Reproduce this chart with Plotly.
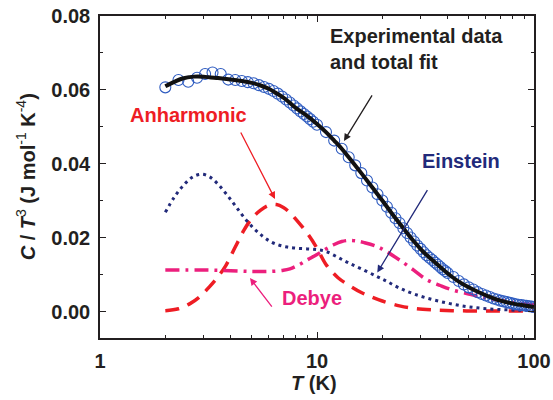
import plotly.graph_objects as go

# ---- data ----
T_exp = [2.0, 2.3, 2.55, 2.8, 3.05, 3.3, 3.6, 3.9, 4.2, 4.5, 4.8, 5.1, 5.4, 5.7, 6.0, 6.3, 6.6, 6.9,
         7.2, 7.5, 7.8, 8.1, 8.4, 8.7, 9.0, 9.3, 9.6, 10, 11, 12, 13, 14, 15, 16, 17, 18, 19, 20,
         21, 22, 23, 24, 25, 26, 27, 28, 29, 30, 31, 32, 33, 34, 35, 36, 37, 38, 39, 40, 42.5, 45,
         47.5, 50, 52.5, 55, 57.5, 60, 62.5, 65, 67.5, 70, 72.5, 75, 77.5, 80, 82.5, 85, 87.5, 90,
         92.5, 95, 97.5, 100]
C_exp = [0.0607, 0.0627, 0.0622, 0.0633, 0.0643, 0.0647, 0.0643, 0.0628, 0.0627, 0.0624, 0.0621,
         0.0618, 0.0613, 0.0608, 0.0603, 0.0597, 0.0590, 0.0582, 0.0574, 0.0566, 0.0558, 0.0550,
         0.0542, 0.0535, 0.0528, 0.0521, 0.0514, 0.0506, 0.0486, 0.0463, 0.0441, 0.0418, 0.0396,
         0.0375, 0.0355, 0.0336, 0.0318, 0.0301, 0.0284, 0.0268, 0.0253, 0.0240, 0.0226, 0.0213,
         0.0201, 0.0190, 0.0179, 0.0170, 0.0161, 0.0153, 0.0146, 0.0140, 0.0133, 0.0127, 0.0121,
         0.0115, 0.0110, 0.0105, 0.0094, 0.0083, 0.0074, 0.0066, 0.0060, 0.0053, 0.0048, 0.0044,
         0.0040, 0.0036, 0.0033, 0.0030, 0.0028, 0.0026, 0.0024, 0.0022, 0.0020, 0.0019, 0.0018,
         0.0017, 0.0016, 0.0015, 0.0014, 0.0013]

T_fit = [2, 2.2, 2.4, 2.7, 3, 3.5, 4, 4.5, 5, 5.5, 6, 6.5, 7, 7.5, 8, 9, 10, 11, 12, 13, 14, 16,
         18, 20, 22, 25, 28, 31, 34, 38, 42, 46, 50, 56, 62, 70, 80, 90, 100]
C_fit = [0.0610, 0.0622, 0.0631, 0.0636, 0.0636, 0.0632, 0.0628, 0.0624, 0.0619, 0.0612, 0.0603,
         0.0591, 0.0579, 0.0565, 0.0551, 0.0530, 0.0508, 0.0486, 0.0463, 0.0441, 0.0418, 0.0375,
         0.0336, 0.0301, 0.0268, 0.0226, 0.0190, 0.0161, 0.0140, 0.0115, 0.0094, 0.0078, 0.0066,
         0.0052, 0.0041, 0.0030, 0.0022, 0.0017, 0.0013]

T_ein = [2.0, 2.2, 2.45, 2.7, 2.95, 3.2, 3.5, 3.85, 4.2, 4.6, 5.1, 5.6, 6.1, 6.7, 7.3, 8.0, 9.0,
         10.0, 11.0, 12.5, 14, 16, 18.8, 21, 24, 28, 34, 41, 49, 58, 70, 85, 100]
C_ein = [0.0269, 0.0310, 0.0345, 0.0366, 0.0372, 0.0365, 0.0345, 0.0316, 0.0287, 0.0256, 0.0226,
         0.0205, 0.0190, 0.0180, 0.0175, 0.0172, 0.0170, 0.0168, 0.0163, 0.0147, 0.0132, 0.0116,
         0.0096, 0.0082, 0.0064, 0.0048, 0.0033, 0.0022, 0.0014, 0.0009, 0.0006, 0.0004, 0.0003]

T_anh = [2.0, 2.3, 2.6, 2.9, 3.2, 3.5, 3.8, 4.2, 4.6, 5.0, 5.5, 6.0, 6.5, 7.0, 7.5, 8.0, 9.0, 10.0,
         11.0, 12.5, 14, 16, 18, 20, 24, 28, 34, 42, 55, 70, 100]
C_anh = [0.0003, 0.0008, 0.0022, 0.0042, 0.0068, 0.0095, 0.0125, 0.0175, 0.0220, 0.0252, 0.0275,
         0.0288, 0.0290, 0.0282, 0.0268, 0.0250, 0.0213, 0.0172, 0.0128, 0.0092, 0.0072, 0.0052,
         0.0039, 0.0029, 0.0016, 0.0009, 0.0005, 0.0003, 0.0002, 0.0002, 0.0002]

T_deb = [2.0, 3, 4, 5, 6, 7, 7.5, 8, 8.5, 9, 10, 11, 12, 13, 14, 15, 16.5, 18.8, 21, 24, 28, 32,
         37, 42, 50, 56, 65, 80, 100]
C_deb = [0.0113, 0.0113, 0.0111, 0.0109, 0.0109, 0.0112, 0.0116, 0.0123, 0.0131, 0.0140, 0.0155,
         0.0170, 0.0182, 0.0190, 0.0193, 0.0192, 0.0187, 0.0177, 0.0162, 0.0140, 0.0112, 0.0087,
         0.0071, 0.0059, 0.0048, 0.0041, 0.0034, 0.0025, 0.0019]

x_ticks = [1, 10, 100]
x_ticktext = ["1", "10", "100"]
x_minor = [2, 3, 4, 5, 6, 7, 8, 9, 20, 30, 40, 50, 60, 70, 80, 90]

BLUE = "#2f5cc0"
NAVY = "#222a7a"
RED = "#ee1d24"
PINK = "#ec1f7d"
DARK = "#231f20"
FONT = "Arial, Liberation Sans, sans-serif"

fig = go.Figure()
fig.add_trace(go.Scatter(x=T_anh, y=C_anh, mode="lines", line=dict(color=RED, width=3.5, dash="14px,9px"),
                         line_shape="spline", showlegend=False))
fig.add_trace(go.Scatter(x=T_deb, y=C_deb, mode="lines", line=dict(color=PINK, width=3.5, dash="14px,6px,3px,6px"),
                         line_shape="spline", showlegend=False))
fig.add_trace(go.Scatter(x=T_ein, y=C_ein, mode="lines", line=dict(color=NAVY, width=3, dash="3px,4px"),
                         line_shape="spline", showlegend=False))
fig.add_trace(go.Scatter(x=T_exp, y=C_exp, mode="markers",
                         marker=dict(symbol="circle-open", size=11, color=BLUE, line=dict(width=1.1, color=BLUE)),
                         showlegend=False))
fig.add_trace(go.Scatter(x=T_fit, y=C_fit, mode="lines", line=dict(color="#111111", width=4),
                         line_shape="spline", showlegend=False))

lab = dict(family=FONT, size=20, weight="bold")
# text labels
fig.add_annotation(x=1.0507, y=0.0711, xref="x", yref="y", text="Experimental data<br>and total fit",
                   showarrow=False, xanchor="left", yanchor="middle", align="left",
                   font=dict(lab, color=DARK))
fig.add_annotation(x=0.410, y=0.0532, xref="x", yref="y", text="Anharmonic", showarrow=False,
                   font=dict(lab, color=RED))
fig.add_annotation(x=1.6636, y=0.0408, xref="x", yref="y", text="Einstein", showarrow=False,
                   font=dict(lab, color=NAVY))
fig.add_annotation(x=0.977, y=0.0038, xref="x", yref="y", text="Debye", showarrow=False,
                   font=dict(lab, color=PINK))

# axis titles
fig.add_annotation(x=0.493, y=-0.14, xref="paper", yref="paper", text="<i>T</i> (K)", showarrow=False,
                   xanchor="center", yanchor="middle", font=dict(lab, color=DARK))
fig.add_annotation(x=-0.172, y=0.50, xref="paper", yref="paper", textangle=-90,
                   text="<i>C</i> / <i>T</i><sup><span style='font-weight:normal'>3</span></sup> (J mol"
                        "<sup><span style='font-weight:normal'>-1</span></sup> K"
                        "<sup><span style='font-weight:normal'>-4</span></sup>)",
                   showarrow=False, xanchor="center", yanchor="middle", font=dict(lab, color=DARK))

# arrows
def arrow(x, y, ax, ay, color):
    fig.add_annotation(x=x, y=y, xref="x", yref="y", ax=ax, ay=ay, text="", showarrow=True,
                       arrowhead=2, arrowsize=1.1, arrowwidth=1.3, arrowcolor=color)

arrow(1.1244, 0.0462, 29, -47, DARK)
arrow(1.2779, 0.0106, 51, -84, NAVY)
arrow(0.8065, 0.0305, -35, -68, RED)
arrow(0.6912, 0.0091, 23, 30, PINK)

axis_common = dict(showline=True, linecolor=DARK, linewidth=1.5, mirror="ticks", ticks="inside",
                   ticklen=6, tickwidth=1.2, tickcolor=DARK, showgrid=False, zeroline=False,
                   automargin=False, ticklabelstandoff=4,
                   tickfont=dict(family=FONT, size=20, color=DARK, weight="bold"))

fig.update_xaxes(type="log", range=[0, 2], tickvals=x_ticks, ticktext=x_ticktext,
                 minor=dict(tickvals=x_minor, ticks="inside", ticklen=3.5, tickwidth=1.2, tickcolor=DARK),
                 **axis_common)
fig.update_yaxes(range=[-0.0071, 0.08], tick0=0, dtick=0.02, tickformat=".2f",
                 minor=dict(dtick=0.01, ticks="inside", ticklen=3.5, tickwidth=1.2, tickcolor=DARK),
                 **axis_common)

fig.update_layout(width=553, height=400, margin=dict(l=100, r=19, t=16, b=62),
                  paper_bgcolor="white", plot_bgcolor="white")

fig.write_html("out.html", config={"displayModeBar": False},
               post_script="document.body.style.margin='0px';document.body.style.overflow='hidden';")
